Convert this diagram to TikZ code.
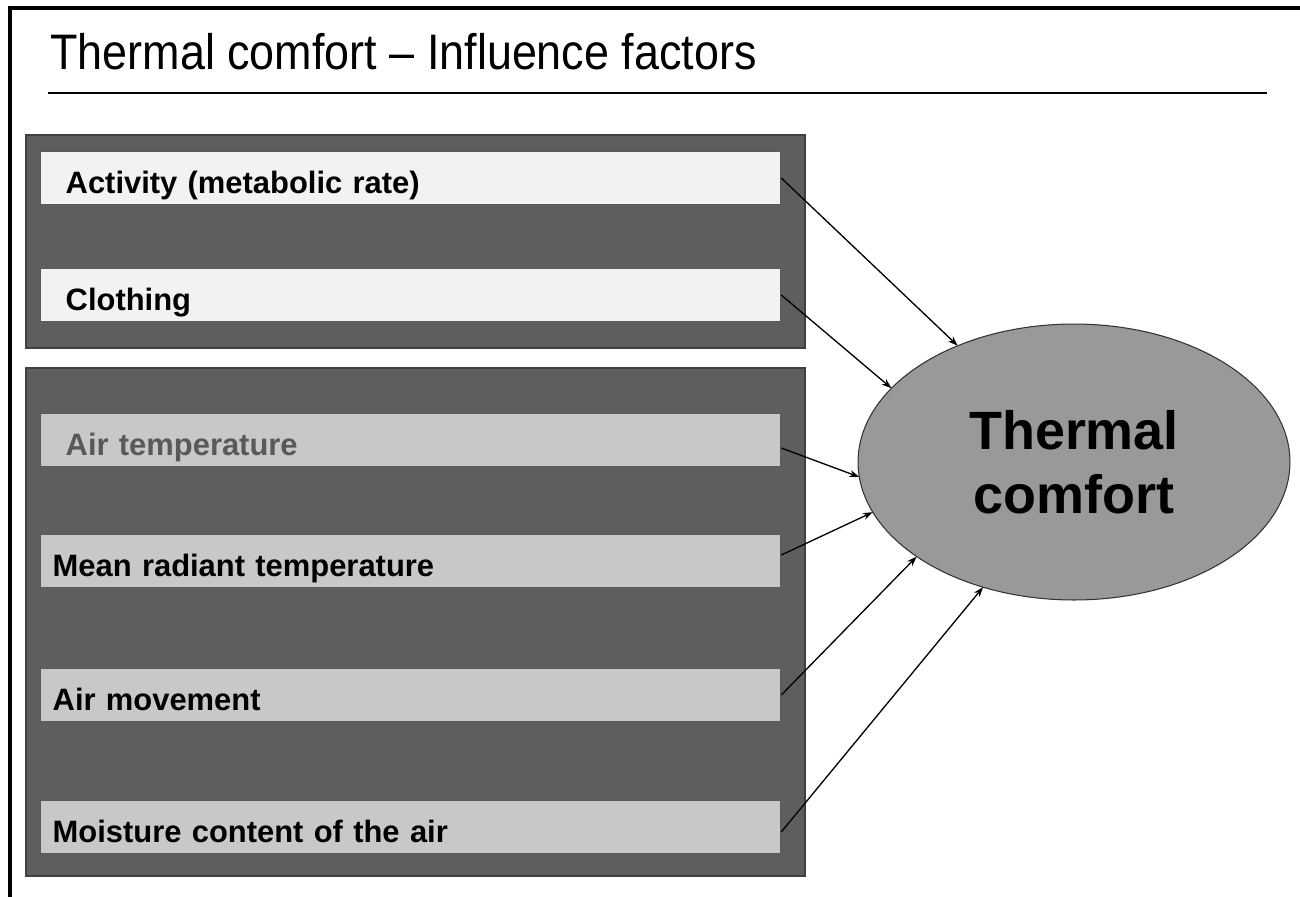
\documentclass[tikz,border=0pt]{standalone}
\usepackage{fontspec}
\setmainfont{Liberation Sans}
\newfontfamily\titlefont[FakeStretch=0.9]{Liberation Sans}
\usetikzlibrary{arrows.meta, positioning, shapes.geometric}

\definecolor{groupgray}{HTML}{5E5E5E}
\definecolor{lightbox}{HTML}{F2F2F2}
\definecolor{midbox}{HTML}{C8C8C8}
\definecolor{ovalgray}{HTML}{999999}

\begin{document}
\begin{tikzpicture}[
  x=0.02cm, y=-0.02cm,
  >={Stealth[length=0.2cm, width=0.14cm]},
  group/.style={draw=black!75, fill=groupgray, line width=0.8pt},
  factor/.style={draw=black!65, fill=midbox, rectangle, line width=0.8pt, anchor=west, minimum width=14.8cm, minimum height=1.06cm, inner xsep=0.24cm, inner ysep=0pt, text height=0.66cm, text depth=0.06cm, text width=14.32cm, align=left, font=\bfseries\fontsize{17.6}{20}\selectfont},
  upper/.style={factor, fill=lightbox, inner xsep=0.5cm, text width=13.8cm},
  oval/.style={draw=black!80, fill=ovalgray, ellipse, line width=0.6pt, minimum width=8.64cm, minimum height=5.52cm, inner sep=0pt, outer sep=0pt, align=center, font=\bfseries\fontsize{30.7}{36.4}\selectfont},
  link/.style={->, line width=0.75pt}
]
  \useasboundingbox (0,0) rectangle (1300,896);

  % frame and title
  \draw[line width=0.08cm] (10,900) -- (10,8) -- (1304,8);
  \node[anchor=base west, inner sep=0pt, font=\titlefont\fontsize{28.4}{32}\selectfont] (title) at (50,69) {Thermal comfort – Influence factors};
  \draw[line width=1pt] (48,93) -- (1267,93);

  % personal factors
  \draw[group] (26,135) rectangle (805,348);
  \node[upper] (act) at (40,178) {Activity (metabolic rate)};
  \node[upper] (cloth) at (40,295) {Clothing};

  % environmental factors
  \draw[group] (26,368) rectangle (805,876);
  \node[factor, inner xsep=0.5cm, text width=13.8cm, text=black!65] (airt) at (40,440) {Air temperature};
  \node[factor] (mrt) at (40,561) {Mean radiant temperature};
  \node[factor] (airmov) at (40,695) {Air movement};
  \node[factor] (moist) at (40,827) {Moisture content of the air};

  \node[oval] (comfort) at (1074,462) {Thermal\\comfort};

  % arrows
  \draw[link] (act.east) -- (comfort.135);
  \draw[link] (cloth.east) -- (comfort.158);
  \draw[link] ([yshift=-0.16cm]airt.east) -- (comfort.184);
  \draw[link] ([yshift=0.12cm]mrt.east) -- (comfort.194);
  \draw[link] (airmov.east) -- (comfort.211);
  \draw[link] ([yshift=-0.1cm]moist.east) -- (comfort.234);
\end{tikzpicture}
\end{document}
